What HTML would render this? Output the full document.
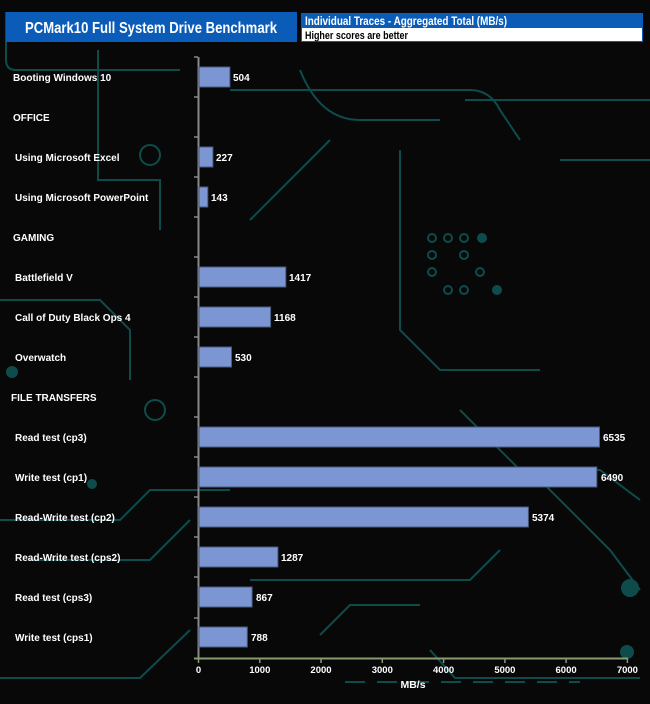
<!DOCTYPE html>
<html><head><style>
body{margin:0;background:#080808;}
svg{display:block;font-family:"Liberation Sans",Arial,sans-serif;}
</style></head><body>
<svg width="650" height="704" xmlns="http://www.w3.org/2000/svg">
<rect width="650" height="704" fill="#080808"/>
<g stroke="#0e4c4c" stroke-width="2" fill="none">
<path d="M6 12 V60 Q6 70 16 70 H180"/>
<path d="M98 50 V180 H160 V230"/>
<path d="M230 90 H470 Q490 90 500 110 L520 140"/>
<path d="M250 220 L330 140"/>
<path d="M300 70 Q320 120 360 120 H440"/>
<path d="M0 300 H100 L130 330 V380"/>
<path d="M400 150 V330 L440 370 H540"/>
<path d="M0 520 H120 L150 490 H230"/>
<path d="M30 560 H150 L190 520"/>
<path d="M460 410 L520 470 H600 L640 500"/>
<path d="M540 480 L610 550 L640 590"/>
<path d="M250 580 H470 L500 550"/>
<path d="M560 160 H650"/>
<path d="M465 100 H650"/>
<path d="M320 635 L350 605 H420"/>
<path d="M0 678 H140 L190 630"/>
<path d="M345 682 H580" stroke-dasharray="20 12"/>
<path d="M430 650 L455 678 H640"/>
</g>
<g fill="#0e4c4c">
<circle cx="630" cy="588" r="9"/><circle cx="627" cy="652" r="7"/>
<circle cx="92" cy="484" r="5"/><circle cx="12" cy="372" r="6"/>
<circle cx="482" cy="238" r="5"/><circle cx="497" cy="290" r="5"/>
</g>
<g stroke="#0e4c4c" stroke-width="2" fill="none">
<circle cx="150" cy="155" r="10"/><circle cx="155" cy="410" r="10"/>
<circle cx="432" cy="238" r="4"/><circle cx="448" cy="238" r="4"/><circle cx="464" cy="238" r="4"/>
<circle cx="432" cy="255" r="4"/><circle cx="464" cy="255" r="4"/><circle cx="480" cy="272" r="4"/>
<circle cx="432" cy="272" r="4"/><circle cx="448" cy="290" r="4"/><circle cx="464" cy="290" r="4"/>
</g>
<!-- header -->
<rect x="6" y="12" width="291" height="30" fill="#0a5cb8"/>
<text x="151" y="33" fill="#fff" font-size="16" font-weight="bold" text-anchor="middle" textLength="252" lengthAdjust="spacingAndGlyphs">PCMark10 Full System Drive Benchmark</text>
<rect x="301.5" y="13.5" width="341" height="28" fill="#fff" stroke="#0a5cb8"/>
<rect x="301" y="13" width="342" height="15" fill="#0a5cb8"/>
<text x="305" y="25" fill="#fff" font-size="12" font-weight="bold" textLength="202" lengthAdjust="spacingAndGlyphs">Individual Traces - Aggregated Total (MB/s)</text>
<text x="305" y="39" fill="#000" font-size="11" font-weight="bold" textLength="103" lengthAdjust="spacingAndGlyphs">Higher scores are better</text>
<!-- axes -->
<line x1="198.5" y1="57" x2="198.5" y2="658" stroke="#888" stroke-width="2"/>
<g stroke="#888" stroke-width="1.5">
<line x1="194" y1="57" x2="198" y2="57"/><line x1="194" y1="97" x2="198" y2="97"/><line x1="194" y1="137" x2="198" y2="137"/><line x1="194" y1="177" x2="198" y2="177"/><line x1="194" y1="217" x2="198" y2="217"/><line x1="194" y1="257" x2="198" y2="257"/><line x1="194" y1="297" x2="198" y2="297"/><line x1="194" y1="337" x2="198" y2="337"/><line x1="194" y1="377" x2="198" y2="377"/><line x1="194" y1="417" x2="198" y2="417"/><line x1="194" y1="457" x2="198" y2="457"/><line x1="194" y1="497" x2="198" y2="497"/><line x1="194" y1="537" x2="198" y2="537"/><line x1="194" y1="577" x2="198" y2="577"/><line x1="194" y1="618" x2="198" y2="618"/>
</g>
<line x1="194" y1="658.5" x2="628" y2="658.5" stroke="#8a9a70" stroke-width="2"/>
<g stroke="#8a9a70" stroke-width="1.5">
<line x1="198.5" y1="658" x2="198.5" y2="663"/><line x1="259.8" y1="658" x2="259.8" y2="663"/><line x1="321" y1="658" x2="321" y2="663"/><line x1="382.3" y1="658" x2="382.3" y2="663"/><line x1="443.6" y1="658" x2="443.6" y2="663"/><line x1="504.9" y1="658" x2="504.9" y2="663"/><line x1="566.1" y1="658" x2="566.1" y2="663"/><line x1="627.4" y1="658" x2="627.4" y2="663"/>
</g>
<g fill="#fff" font-size="9.5" font-weight="bold" text-anchor="middle">
<text x="198.5" y="673">0</text><text x="259.8" y="673">1000</text><text x="321" y="673">2000</text><text x="382.3" y="673">3000</text><text x="443.6" y="673">4000</text><text x="504.9" y="673">5000</text><text x="566.1" y="673">6000</text><text x="627.4" y="673">7000</text>
<text x="413" y="688" font-size="10.5">MB/s</text>
</g>
<!-- labels -->
<g fill="#fff" font-size="10" font-weight="bold">
<text x="13" y="81">Booting Windows 10</text>
<text x="13" y="121">OFFICE</text>
<text x="15" y="161">Using Microsoft Excel</text>
<text x="15" y="201">Using Microsoft PowerPoint</text>
<text x="13" y="241">GAMING</text>
<text x="15" y="281">Battlefield V</text>
<text x="15" y="321">Call of Duty Black Ops 4</text>
<text x="15" y="361">Overwatch</text>
<text x="11" y="401">FILE TRANSFERS</text>
<text x="15" y="441">Read test (cp3)</text>
<text x="15" y="481">Write test (cp1)</text>
<text x="15" y="521">Read-Write test (cp2)</text>
<text x="15" y="561">Read-Write test (cps2)</text>
<text x="15" y="601">Read test (cps3)</text>
<text x="15" y="641">Write test (cps1)</text>
</g>
<!-- bars -->
<g fill="#7b96d2" stroke="#4a5a80" stroke-width="1">
<rect x="199" y="67" width="30.9" height="20"/>
<rect x="199" y="147" width="13.9" height="20"/>
<rect x="199" y="187" width="8.8" height="20"/>
<rect x="199" y="267" width="86.8" height="20"/>
<rect x="199" y="307" width="71.6" height="20"/>
<rect x="199" y="347" width="32.5" height="20"/>
<rect x="199" y="427" width="400.5" height="20"/>
<rect x="199" y="467" width="397.8" height="20"/>
<rect x="199" y="507" width="329.4" height="20"/>
<rect x="199" y="547" width="78.9" height="20"/>
<rect x="199" y="587" width="53.1" height="20"/>
<rect x="199" y="627" width="48.3" height="20"/>
</g>
<g fill="#fff" font-size="10" font-weight="bold">
<text x="233" y="81">504</text>
<text x="216" y="161">227</text>
<text x="211" y="201">143</text>
<text x="289" y="281">1417</text>
<text x="274" y="321">1168</text>
<text x="235" y="361">530</text>
<text x="603" y="441">6535</text>
<text x="601" y="481">6490</text>
<text x="532" y="521">5374</text>
<text x="281" y="561">1287</text>
<text x="256" y="601">867</text>
<text x="251" y="641">788</text>
</g>
</svg>
</body></html>
